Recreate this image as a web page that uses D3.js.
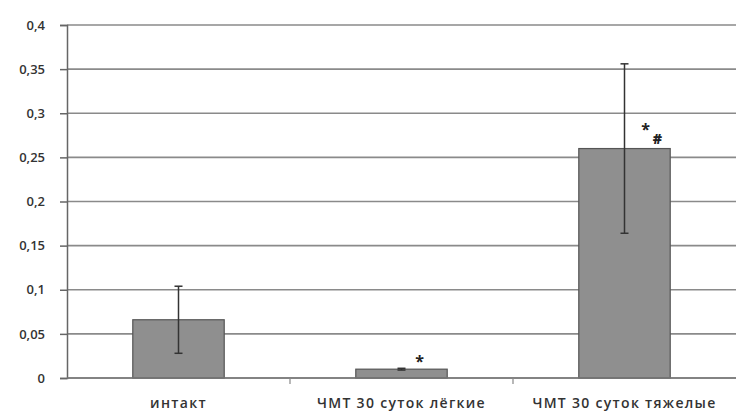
<!DOCTYPE html>
<html>
<head>
<meta charset="utf-8">
<script src="https://cdn.jsdelivr.net/npm/d3@7"></script>
<style>
  body { margin: 0; background: #fff; }
  text { font-family: "Open Sans", "DejaVu Sans", sans-serif; }
</style>
</head>
<body>
<div id="graph"></div>
<script>
// categories, means and error (+/-)
var categories = ["интакт", "ЧМТ 30 суток лёгкие", "ЧМТ 30 суток тяжелые"];
var values = [0.066, 0.010, 0.260];
var errors = [0.038, 0.001, 0.096];
var marks = ["", "*", "*#"];
var yTicks = [0, 0.05, 0.1, 0.15, 0.2, 0.25, 0.3, 0.35, 0.4];

var width = 736;
var height = 414;
var plotLeft = 67, plotRight = 736, plotTop = 25, plotBottom = 378;

var svg = d3.select("#graph").
append("svg").
attr("width", width).
attr("height", height);

var xScale = d3.scaleBand().
domain(categories).
range([plotLeft, plotRight]).
padding(0);

var yScale = d3.scaleLinear().
domain([0, 0.4]).
range([plotBottom, plotTop]);

var fmt = function (d) {return String(d).replace(".", ",");};

// gridlines
svg.append("g").
selectAll("line").
data(yTicks).
enter().
append("line").
attr("x1", plotLeft).
attr("x2", plotRight).
attr("y1", function (d) {return yScale(d);}).
attr("y2", function (d) {return yScale(d);}).
attr("stroke", "#8a8a8a").
attr("stroke-width", 1.6);

// y axis
var yAxis = d3.axisLeft(yScale).
tickValues(yTicks).
tickFormat(fmt).
tickSize(7).
tickPadding(15);

svg.append("g").
attr("transform", "translate(" + plotLeft + ",0)").
call(yAxis).
call(function (g) {
   g.select(".domain").attr("stroke", "#666").attr("stroke-width", 1.5);
   g.selectAll(".tick line").attr("stroke", "#666").attr("stroke-width", 1.5);
   g.selectAll(".tick text").
   attr("fill", "#333").
   style("font-size", "13px").
   style("font-weight", "600");
});

// bars
var barW = xScale.bandwidth() * 0.41;
svg.selectAll("rect.bar").
data(values).
enter().
append("rect").
attr("class", "bar").
attr("x", function (d, i) {return xScale(categories[i]) + xScale.bandwidth() / 2 - barW / 2;}).
attr("y", function (d) {return yScale(d);}).
attr("width", barW).
attr("height", function (d) {return plotBottom - yScale(d);}).
attr("fill", "#8f8f8f").
attr("stroke", "#555").
attr("stroke-width", 1.2);

// x axis baseline + category ticks
svg.append("line").
attr("x1", plotLeft).
attr("x2", plotRight).
attr("y1", plotBottom).
attr("y2", plotBottom).
attr("stroke", "#777").
attr("stroke-width", 1.6);

svg.selectAll("line.xtick").
data(categories.slice(1)).
enter().
append("line").
attr("class", "xtick").
attr("x1", function (d) {return xScale(d);}).
attr("x2", function (d) {return xScale(d);}).
attr("y1", plotBottom).
attr("y2", plotBottom + 6).
attr("stroke", "#888").
attr("stroke-width", 1.2);

// error bars
var eb = svg.append("g").attr("stroke", "#333").attr("stroke-width", 1.5);
values.forEach(function (v, i) {
   var cx = xScale(categories[i]) + xScale.bandwidth() / 2;
   var hi = yScale(v + errors[i]);
   var lo = yScale(Math.max(0, v - errors[i]));
   eb.append("line").attr("x1", cx).attr("x2", cx).attr("y1", hi).attr("y2", lo);
   eb.append("line").attr("x1", cx - 4).attr("x2", cx + 4).attr("y1", hi).attr("y2", hi);
   eb.append("line").attr("x1", cx - 4).attr("x2", cx + 4).attr("y1", lo).attr("y2", lo);
});

// significance marks
values.forEach(function (v, i) {
   if (!marks[i]) return;
   var cx = xScale(categories[i]) + xScale.bandwidth() / 2;
   if (marks[i] === "*") {
      svg.append("text").
      attr("x", cx + 18).
      attr("y", yScale(v) - 2).
      attr("text-anchor", "middle").
      style("font-size", "16px").
      style("font-weight", "bold").
      attr("fill", "#222").
      text("*");
   } else {
      svg.append("text").
      attr("x", cx + 21).
      attr("y", yScale(v) - 14).
      attr("text-anchor", "middle").
      style("font-size", "16px").
      style("font-weight", "bold").
      attr("fill", "#222").
      text("*");
      svg.append("text").
      attr("x", cx + 33).
      attr("y", yScale(v) - 5).
      attr("text-anchor", "middle").
      style("font-size", "14px").
      style("font-weight", "800").
      attr("fill", "#222").
      text("#");
   }
});

// category labels
svg.selectAll("text.cat").
data(categories).
enter().
append("text").
attr("class", "cat").
attr("x", function (d) {return xScale(d) + xScale.bandwidth() / 2;}).
attr("y", 408).
attr("text-anchor", "middle").
attr("fill", "#333").
style("font-size", "14px").
style("font-weight", "600").
style("letter-spacing", "1.3px").
text(function (d) {return d;});
</script>
</body>
</html>
